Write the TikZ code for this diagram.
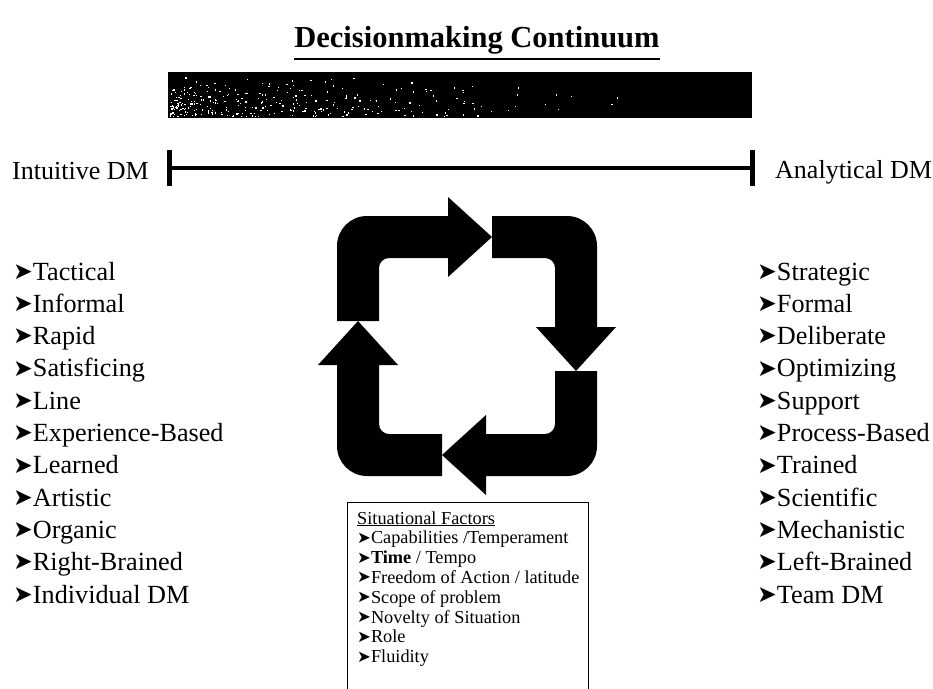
\documentclass[tikz,border=0pt]{standalone}
\usepackage{fontspec}
\setmainfont{Liberation Serif}
\newfontfamily\symfont{DejaVu Sans}
\usetikzlibrary{arrows.meta}
\newcommand{\bul}{\raisebox{0.03em}{\scalebox{0.9}{\symfont ➤}}}

\begin{document}
\begin{tikzpicture}[x=1pt,y=-1pt,
        heading/.style={font=\fontsize{30.5}{34}\selectfont\bfseries,inner sep=0pt},
        endlabel/.style={font=\fontsize{26}{30}\selectfont,inner sep=0pt,anchor=base west},
        item/.style={font=\fontsize{26.2}{30}\selectfont,inner sep=0pt,anchor=base west},
        factor/.style={font=\fontsize{18.3}{20}\selectfont,inner sep=0pt,anchor=base west},
        cyclearrow/.style={fill=black}]
    \useasboundingbox (0,0) rectangle (933,688);

    \node[heading,anchor=base] (title) at (477,47) {Decisionmaking Continuum};
    \draw[line width=2.5pt] ([yshift=-12pt]title.base west) -- ([yshift=-12pt]title.base east);

    % speckled bar
    \fill[black] (168,72) rectangle (752,118);
    \pgfmathsetseed{42}
    \foreach \k in {1,...,300}{
        \pgfmathsetmacro{\sx}{170+460*rnd*rnd}
        \pgfmathsetmacro{\sy}{74+42*sqrt(rnd)}
        \fill[white] (\sx,\sy) rectangle ++(1.3,1.3);
    }

    % continuum
    \node[endlabel] (intuitive) at (12,179) {Intuitive DM};
    \node[endlabel] (analytical) at (775,178) {Analytical DM};
    \coordinate (lend) at (167,168);
    \coordinate (rend) at (755,168);
    \draw[line width=3.5pt,{Bar[width=36pt,line width=5pt]}-{Bar[width=36pt,line width=5pt]}] (lend) -- (rend);

    % cycle of arrows
    \begin{scope}[shift={(467,346)}]
        \foreach \a in {0,-90,-180,-270}
            \fill[cyclearrow,rotate=\a] (-130,-25) -- (-130,-100) arc[start angle=180,end angle=270,radius=30]
                -- (-19,-130) -- (-19,-149) -- (25,-109) -- (-19,-69) -- (-19,-88)
                -- (-78,-88) arc[start angle=270,end angle=180,radius=10] -- (-88,-25) -- cycle;
    \end{scope}

    % left and right lists
    \foreach \t [count=\i] in {Tactical,Informal,Rapid,Satisficing,Line,Experience-Based,Learned,Artistic,Organic,Right-Brained,Individual DM}
        \node[item] (intuit\i) at (13,{280+32.3*(\i-1)}) {\bul\t};
    \foreach \t [count=\i] in {Strategic,Formal,Deliberate,Optimizing,Support,Process-Based,Trained,Scientific,Mechanistic,Left-Brained,Team DM}
        \node[item] (analyt\i) at (757,{280+32.3*(\i-1)}) {\bul\t};

    % situational factors
    \node[draw,line width=1.2pt,minimum width=241pt,minimum height=187pt,anchor=north west,inner sep=0pt] (factors) at (347,502) {};
    \node[factor] (facttitle) at (357,524) {\underline{Situational Factors}};
    \foreach \t [count=\i] in {{Capabilities /Temperament},{\textbf{Time} / Tempo},{Freedom of Action / latitude},Scope of problem,Novelty of Situation,Role,Fluidity}
        \node[factor] (factor\i) at (357,{524+19.8*\i}) {\bul\t};
\end{tikzpicture}
\end{document}
